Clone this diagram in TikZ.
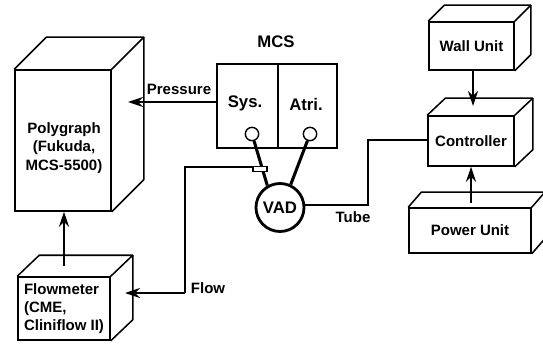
\documentclass[tikz,border=0pt]{standalone}
\usepackage{fontspec}
\setmainfont{Liberation Sans}
\usetikzlibrary{arrows.meta,calc}
\tikzset{
  every node/.style={font=\bfseries\fontsize{12.8}{15.6}\selectfont},
  bigtext/.style={font=\bfseries\fontsize{14.3}{16}\selectfont},
  frontbox/.style={draw,line width=1.3pt,inner sep=0pt,align=center},
  unitline/.style={line width=1.3pt,line join=round},
  wire/.style={line width=1.1pt},
  arrowed/.style={line width=1.1pt,-{Stealth[length=0.45cm,width=0.3cm]}},
  port/.style={draw,circle,fill=white,line width=1.2pt,minimum size=0.4cm,inner sep=0pt},
  hose/.style={line width=2.6pt}
}
% depth lines of a box: front node, then the shift of its back face
\newcommand{\boxback}[3]{
  \draw[unitline] (#1.north west) -- ++(#2,#3) -- ($(#1.north east)+(#2,#3)$) -- (#1.north east);
  \draw[unitline] ($(#1.north east)+(#2,#3)$) -- ($(#1.south east)+(#2,#3)$) -- (#1.south east);
}
\begin{document}
\begin{tikzpicture}[x=0.03cm,y=-0.03cm]
    \useasboundingbox (0,0) rectangle (543,345);
    % boxes on the left
    \node[frontbox,minimum width=2.88cm,minimum height=4.23cm] (polygraph) at (63,140.5) {};
    \node[align=center] (polygraphtext) at (64,148) {Polygraph\\(Fukuda,\\MCS-5500)};
    \boxback{polygraph}{32}{-32}
    \node[frontbox,minimum width=2.76cm,minimum height=1.89cm,align=left] (flowmeter) at (64,308.5) {Flowmeter\\(CME,\\Cliniflow II)};
    \boxback{flowmeter}{22}{-21}
    % MCS
    \node[bigtext] (mcstitle) at (276,42) {MCS};
    \node[frontbox,line width=1.1pt,minimum width=1.83cm,minimum height=2.52cm] (mcssys) at (247.5,106) {};
    \node[frontbox,line width=1.1pt,minimum width=1.77cm,minimum height=2.52cm] (mcsatri) at (307.5,106) {};
    \node[bigtext] (syslabel) at (245,103) {Sys.};
    \node[bigtext] (atrilabel) at (306,105) {Atri.};
    \node[bigtext,draw,circle,line width=2.4pt,minimum size=1.44cm,inner sep=0pt] (vad) at (280,207.5) {VAD};
    \node[port] (sysport) at (252,134) {};
    \node[port] (atriport) at (310,134) {};
    \draw[hose] (sysport) -- (vad.120);
    \draw[hose] (atriport) -- (vad.65);
    \node[draw,fill=white,line width=1.1pt,minimum width=0.42cm,minimum height=0.17cm,inner sep=0pt] (sensor) at (260,169) {};
    % right column
    \node[frontbox,minimum width=2.55cm,minimum height=1.44cm] (wallunit) at (471.5,46) {Wall Unit};
    \boxback{wallunit}{16}{-16}
    \node[frontbox,minimum width=2.58cm,minimum height=1.5cm] (controller) at (471,141) {Controller};
    \boxback{controller}{18}{-17}
    \node[frontbox,minimum width=3.66cm,minimum height=1.35cm] (powerunit) at (470,230.5) {Power Unit};
    \boxback{powerunit}{13}{-15}
    % connections
    \coordinate (pressuretip) at (128,102);
    \coordinate (flowcorner) at (185,167);
    \coordinate (flowdown) at (185,293);
    \coordinate (flowtip) at (125,293);
    \coordinate (tubedown) at (368,205);
    \coordinate (tubeup) at (368,140);
    \coordinate (flowfoot) at (64,266);
    \coordinate (wallfoot) at (473,70);
    \coordinate (walltip) at (473,106);
    \coordinate (powerfoot) at (471,203);
    \draw[arrowed] (mcssys.west |- pressuretip) -- (pressuretip);
    \draw[arrowed] (flowfoot) -- (flowfoot |- polygraph.south);
    \draw[wire] (sensor.west |- flowcorner) -- (flowcorner) -- (flowdown);
    \draw[arrowed] (flowdown) -- (flowtip);
    \draw[wire] (vad.east |- tubedown) -- (tubedown) -- (tubeup) -- (controller.west |- tubeup);
    \draw[arrowed] (wallfoot) -- (walltip);
    \draw[arrowed] (powerfoot) -- (powerfoot |- controller.south);
    % labels
    \node (pressurelabel) at (179,89) {Pressure};
    \node (flowlabel) at (208,288) {Flow};
    \node (tubelabel) at (353,217) {Tube};
\end{tikzpicture}
\end{document}
